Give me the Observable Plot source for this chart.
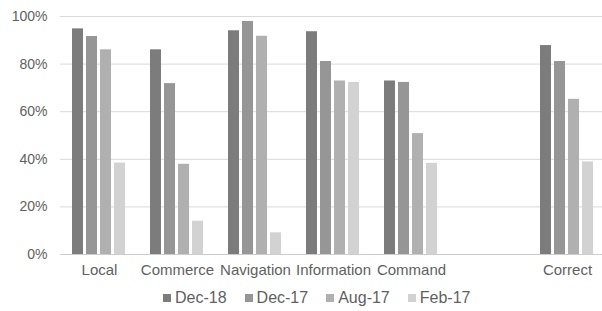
<!DOCTYPE html>
<html>
<head>
<meta charset="utf-8">
<script src="https://cdn.jsdelivr.net/npm/d3@7"></script>
<script src="https://cdn.jsdelivr.net/npm/@observablehq/plot@0.6"></script>
<style>
  html, body { margin: 0; padding: 0; background: white; }
  body { width: 602px; height: 311px; overflow: hidden; font-family: "Liberation Sans", Arial, sans-serif; }
  #legend .lg-swatches { justify-content: flex-start !important; margin: 0 0 0 163px !important; min-height: 29px !important; font-size: 16px !important; color: #5f5f5f !important; font-family: "Liberation Sans", Arial, sans-serif !important; }
  #legend .lg-swatch { margin-right: 18px !important; }
  #legend .lg-swatch > svg { margin-right: 4px !important; }
</style>
</head>
<body>
<div id="chart"></div>
<div id="legend"></div>
<script>
const categories = ["Local", "Commerce", "Navigation", "Information", "Command", " ", "Correct"];
const series = ["Dec-18", "Dec-17", "Aug-17", "Feb-17"];
const dec18 = [94.8, 86.0, 94.0, 93.6, 72.9, null, 87.8];
const dec17 = [91.6, 71.8, 97.9, 81.1, 72.3, null, 81.1];
const aug17 = [86.0, 37.9, 91.7, 72.9, 50.8, null, 65.2];
const feb17 = [38.4, 14.0, 9.1, 72.3, 38.3, null, 38.9];
const yTicks = [0, 20, 40, 60, 80, 100];
const colors = ["#7c7c7c", "#969696", "#b0b0b0", "#d2d2d2"];

const valuesBySeries = [dec18, dec17, aug17, feb17];
const data = [];
categories.forEach((c, i) => {
  series.forEach((s, j) => {
    data.push({category: c, series: s, value: valuesBySeries[j][i]});
  });
});

const chart = Plot.plot({
  width: 602,
  height: 283,
  marginTop: 16,
  marginBottom: 29,
  marginLeft: 58,
  marginRight: -5,
  style: {fontFamily: "Liberation Sans, Arial, sans-serif", color: "#5f5f5f", background: "white"},
  fx: {domain: categories, padding: 0, label: null},
  x: {domain: series, paddingInner: 0.214, paddingOuter: 0.82, axis: null},
  y: {domain: [0, 100], label: null},
  color: {domain: series, range: colors},
  facet: {data: data, x: "category"},
  marks: [
    Plot.ruleY(yTicks.slice(1), {stroke: "#d9d9d9", strokeWidth: 1}),
    Plot.ruleY([0], {stroke: "#cccccc", strokeWidth: 1}),
    Plot.barY(data, {x: "series", y: "value", fill: "series"}),
    Plot.axisY(yTicks, {tickSize: 0, tickPadding: 13, tickFormat: d => d + "%", fontSize: 14, fill: "#5f5f5f", label: null}),
    Plot.axisFx({anchor: "bottom", tickSize: 0, tickPadding: 10, fontSize: 15, fill: "#5f5f5f", label: null})
  ]
});
document.getElementById("chart").appendChild(chart);

const legend = Plot.legend({
  color: {domain: series, range: colors},
  legend: "swatches",
  swatchSize: 8,
  className: "lg"
});
document.getElementById("legend").appendChild(legend);
</script>
</body>
</html>
